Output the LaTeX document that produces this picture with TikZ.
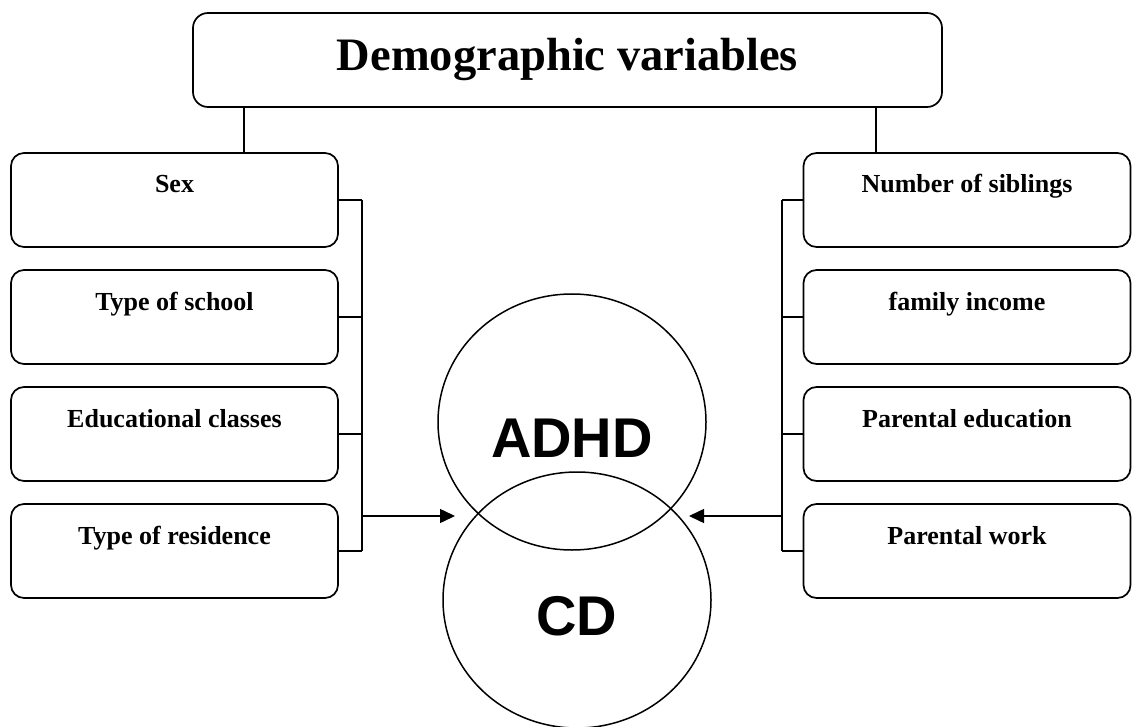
\documentclass[tikz,border=0pt]{standalone}
\usepackage{fontspec}
\setmainfont{Liberation Serif}
\newfontfamily\disfont{Liberation Sans}
\usetikzlibrary{positioning,shapes.geometric,arrows.meta}

\begin{document}
\begin{tikzpicture}[node distance=21.3pt, line width=1.5pt,
    headbox/.style={draw, line width=1.7pt, rounded corners=15pt, inner sep=0pt, minimum width=749pt,
      text height=58pt, text depth=36pt, font=\fontsize{46.5}{50}\selectfont\bfseries},
    varbox/.style={draw, line width=1.7pt, rounded corners=13pt, inner sep=0pt, minimum width=327pt,
      text height=40pt, text depth=54pt, font=\fontsize{26}{30}\selectfont\bfseries},
    disorder/.style={draw, ellipse, inner sep=0pt, minimum width=268pt, minimum height=256pt},
    disname/.style={anchor=base, font=\disfont\fontsize{56}{60}\selectfont\bfseries},
    link/.style={-{Triangle[length=15pt,width=14pt]}}]
        \useasboundingbox (0,0) rectangle (1132pt,-727pt);
        % Heading
        \node[headbox] (demo) at (567.5pt,-60pt) {Demographic variables};
        % Variables in the left column
        \node[varbox] (sex) at (174.5pt,-200pt) {Sex};
        \node[varbox, below=of sex] (school) {Type of school};
        \node[varbox, below=of school] (classes) {Educational classes};
        \node[varbox, below=of classes] (residence) {Type of residence};
        % Variables in the right column
        \node[varbox] (siblings) at (967pt,-200pt) {Number of siblings};
        \node[varbox, below=of siblings] (income) {family income};
        \node[varbox, below=of income] (peduc) {Parental education};
        \node[varbox, below=of peduc] (pwork) {Parental work};
        % The two disorders
        \node[disorder] (adhd) at (572pt,-422pt) {};
        \node[disorder] (cd) at (577pt,-600pt) {};
        \node[disname] (adhdlbl) at ([yshift=-35pt]adhd.center) {ADHD};
        \node[disname] (cdlbl) at ([yshift=-35pt]cd.center) {CD};
        % Heading down to both columns
        \coordinate (ldrop) at ([xshift=52pt]demo.south west);
        \coordinate (rdrop) at ([xshift=-67pt]demo.south east);
        \draw (ldrop) -- (ldrop |- sex.north);
        \draw (rdrop) -- (rdrop |- siblings.north);
        % Brackets
        \coordinate (lbar) at (362pt,0pt);
        \coordinate (rbar) at (782pt,0pt);
        \foreach \n in {sex,school,classes,residence}
            \draw (\n.east) -- (\n.east -| lbar);
        \foreach \n in {siblings,income,peduc,pwork}
            \draw (\n.west) -- (\n.west -| rbar);
        \draw (sex.east -| lbar) -- (residence.east -| lbar);
        \draw (siblings.west -| rbar) -- (pwork.west -| rbar);
        % Arrows into the overlap
        \coordinate (lfeed) at (362pt,-516pt);
        \coordinate (ltip) at (455pt,-516pt);
        \coordinate (rfeed) at (782pt,-516pt);
        \coordinate (rtip) at (689pt,-516pt);
        \draw[link] (lfeed) -- (ltip);
        \draw[link] (rfeed) -- (rtip);
\end{tikzpicture}
\end{document}
